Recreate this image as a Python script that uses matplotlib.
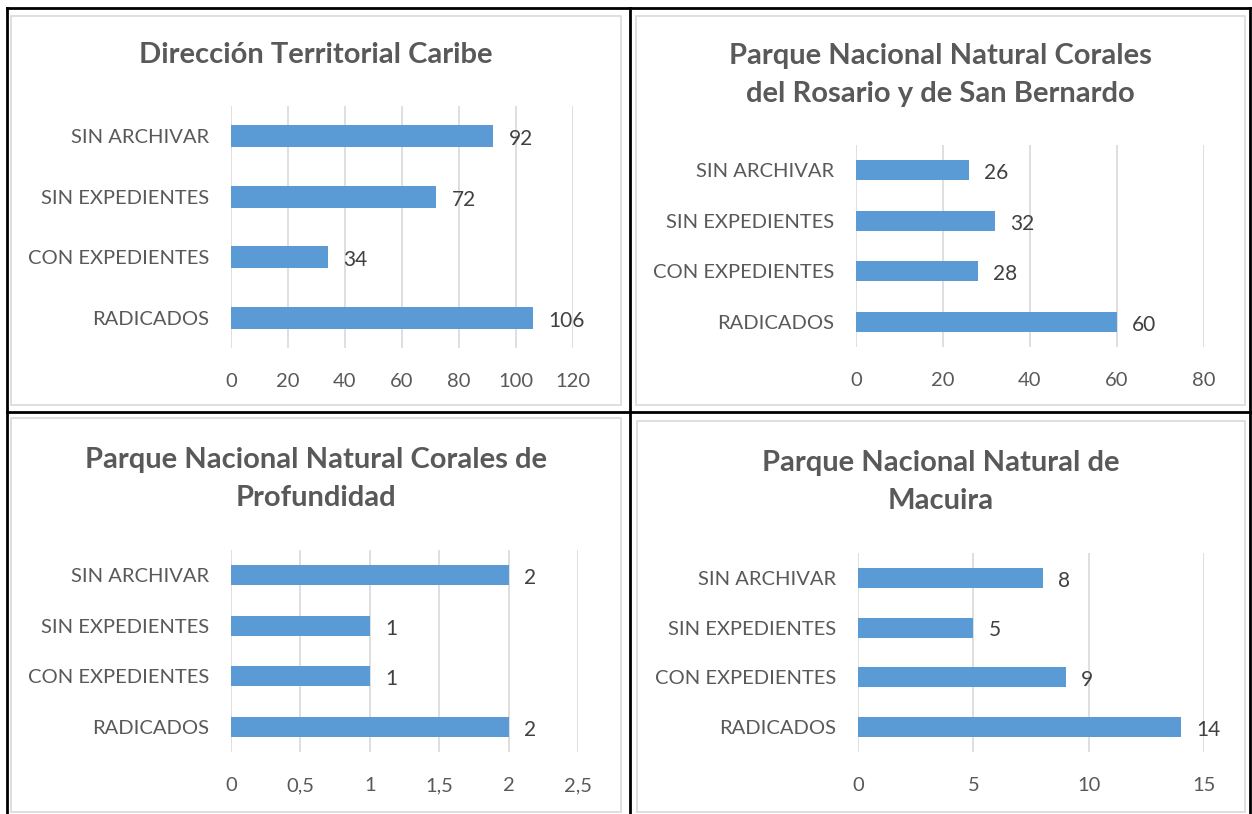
import matplotlib.pyplot as plt
from matplotlib.lines import Line2D
from matplotlib.patches import Rectangle

plt.rcParams['font.family'] = ['Lato', 'DejaVu Sans']

# data
categorias = ["RADICADOS", "CON EXPEDIENTES", "SIN EXPEDIENTES", "SIN ARCHIVAR"]
caribe = [106, 34, 72, 92]
rosario = [60, 28, 32, 26]
profundidad = [2, 1, 1, 2]
macuira = [14, 9, 5, 8]

titulos = ["Dirección Territorial Caribe",
           "Parque Nacional Natural Corales\ndel Rosario y de San Bernardo",
           "Parque Nacional Natural Corales de\nProfundidad",
           "Parque Nacional Natural de\nMacuira"]
xticks = [[0, 20, 40, 60, 80, 100, 120],
          [0, 20, 40, 60, 80],
          [0, 0.5, 1, 1.5, 2, 2.5],
          [0, 5, 10, 15]]

W, H = 1252, 814
fig = plt.figure(figsize=(W / 100, H / 100), dpi=100)

def fx(px):
    return px / W

def fy(py):
    return 1 - py / H

# table borders
for x0, y0, x1, y1 in [(7, 8, 1250, 8), (7, 8, 7, 814), (1250, 8, 1250, 814),
                       (630, 8, 630, 814), (7, 412, 1250, 412)]:
    fig.add_artist(Line2D([fx(x0), fx(x1)], [fy(y0), fy(y1)], color="black", lw=2))

# chart frames
for x0, y0, x1, y1 in [(11, 16, 621, 405), (636, 16, 1245, 405),
                       (11, 418, 621, 812), (637, 421, 1245, 812)]:
    fig.add_artist(Rectangle((fx(x0), fy(y1)), fx(x1 - x0), (y1 - y0) / H,
                             fill=False, edgecolor="#D9D9D9", lw=1.2))

# axes boxes: left, right, top, bottom in pixels
cajas = [(231, 573, 106, 348), (856, 1204, 145, 347),
         (231, 578, 550, 752), (858, 1204, 553, 752)]
titulo_pos = [(316, 55), (940, 75), (316, 479), (941, 482)]
series = [caribe, rosario, profundidad, macuira]
alturas = [0.36, 0.4, 0.4, 0.4]

for (l, r, t, b), vals, ticks, tit, (tx, ty), h in zip(cajas, series, xticks, titulos, titulo_pos, alturas):
    ax = fig.add_axes([fx(l), fy(b), fx(r - l), (b - t) / H])
    y = range(len(categorias))
    ax.barh(y, vals, height=h, color="#5B9BD5", zorder=3)
    ax.set_xlim(ticks[0], ticks[-1])
    ax.set_ylim(-0.5, len(categorias) - 0.5)
    ax.set_yticks(list(y))
    ax.set_yticklabels(categorias)
    ax.set_xticks(ticks)
    ax.set_xticklabels([str(t).replace(".", ",") if t != int(t) else str(int(t)) for t in ticks])
    ax.grid(axis="x", color="#D9D9D9", lw=1.2, zorder=0)
    for s in ax.spines.values():
        s.set_visible(False)
    ax.tick_params(axis="both", length=0, labelsize=14.5, colors="#595959")
    ax.tick_params(axis="x", pad=18)
    ax.tick_params(axis="y", pad=16)
    for yi, v in zip(y, vals):
        ax.annotate(str(v), (v, yi), xytext=(11, -2), textcoords="offset points",
                    ha="left", va="center", fontsize=15, color="#404040")
    fig.text(fx(tx), fy(ty), tit, ha="center", va="center", fontsize=21,
             fontweight="bold", color="#595959", linespacing=1.55)

fig.savefig("out.png", dpi=100, facecolor="white")
